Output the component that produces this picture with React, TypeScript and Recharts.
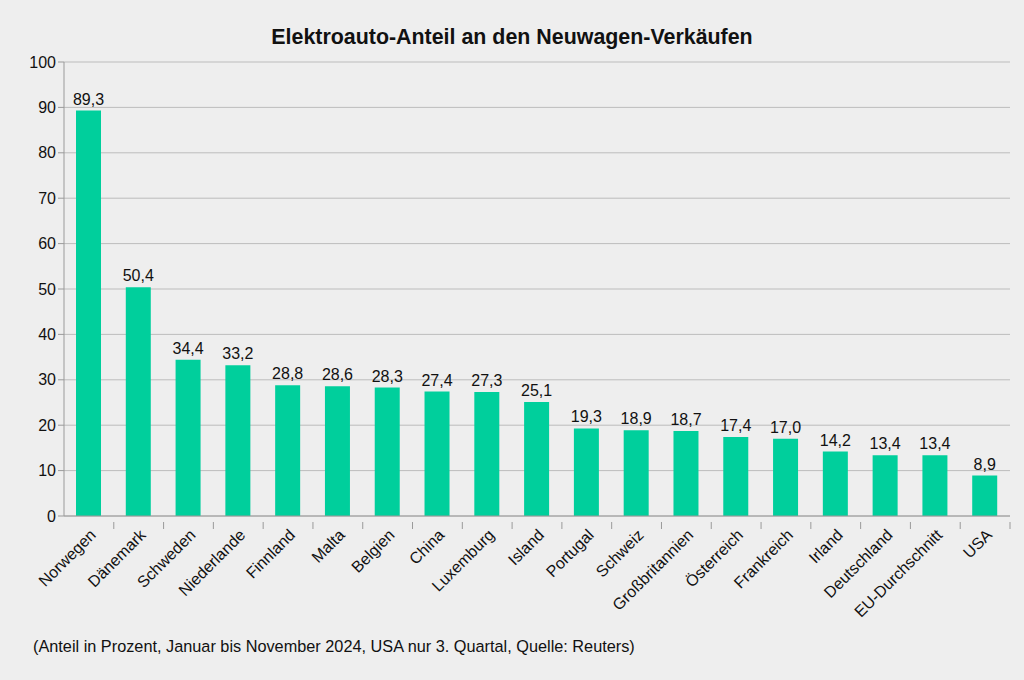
import { BarChart, Bar, XAxis, YAxis, CartesianGrid, LabelList } from 'recharts'

const countries = [
  'Norwegen', 'Dänemark', 'Schweden', 'Niederlande', 'Finnland', 'Malta', 'Belgien', 'China',
  'Luxemburg', 'Island', 'Portugal', 'Schweiz', 'Großbritannien', 'Österreich', 'Frankreich',
  'Irland', 'Deutschland', 'EU-Durchschnitt', 'USA',
]
const shares = [89.3, 50.4, 34.4, 33.2, 28.8, 28.6, 28.3, 27.4, 27.3, 25.1, 19.3, 18.9, 18.7, 17.4, 17.0, 14.2, 13.4, 13.4, 8.9]
const yTicks = [0, 10, 20, 30, 40, 50, 60, 70, 80, 90, 100]

const FONT = '"Liberation Sans", Arial, sans-serif'
const BAR = '#00cf9c'
const AXIS = '#9a9a9a'

const W = 1024
const H = 680
const M = { top: 62, right: 14, bottom: 154, left: 0 }
const Y_W = 64
const BAND = (W - M.left - M.right - Y_W) / countries.length

const data = countries.map((name, i) => ({ name, value: shares[i] }))

const fmt = (v: unknown) => Number(v).toFixed(1).replace('.', ',')

// category labels at 45°, with small tick marks on the band boundaries
function CountryTick({ x, y, payload }: any) {
  return (
    <g>
      <line x1={x + BAND / 2} x2={x + BAND / 2} y1={y - 2} y2={y + 5} stroke={AXIS} />
      <text
        x={x + 8}
        y={y + 12}
        textAnchor="end"
        fontSize={16}
        fontFamily={FONT}
        fill="#111"
        transform={`rotate(-45, ${x + 8}, ${y + 12})`}
      >
        {payload.value}
      </text>
    </g>
  )
}

export default function App() {
  return (
    <div style={{ position: 'fixed', left: 0, top: 0, width: W, height: H, background: '#eeeeee', fontFamily: FONT }}>
      <div style={{ position: 'absolute', left: 0, width: W, top: 25, textAlign: 'center', fontWeight: 'bold', fontSize: 21.4, color: '#111' }}>
        Elektroauto-Anteil an den Neuwagen-Verkäufen
      </div>
      <BarChart width={W} height={H} data={data} margin={M} barCategoryGap="25%">
        <CartesianGrid vertical={false} stroke="#bcbcbc" />
        <XAxis
          dataKey="name"
          interval={0}
          tick={<CountryTick />}
          tickLine={false}
          axisLine={{ stroke: AXIS }}
          height={10}
        />
        <YAxis
          domain={[0, 100]}
          ticks={yTicks}
          width={Y_W}
          tick={{ fontSize: 16, fill: '#111', fontFamily: FONT }}
          tickLine={{ stroke: AXIS }}
          tickSize={6}
          axisLine={{ stroke: AXIS }}
        />
        <YAxis yAxisId="r" orientation="right" width={0} tick={false} tickLine={false} axisLine={{ stroke: AXIS }} domain={[0, 100]} />
        <Bar dataKey="value" fill={BAR} barSize={25} isAnimationActive={false}>
          <LabelList dataKey="value" position="top" formatter={fmt} fontSize={16} fill="#111" fontFamily={FONT} offset={6} />
        </Bar>
      </BarChart>
      <div style={{ position: 'absolute', left: 33, top: 637, fontSize: 16.3, color: '#111' }}>
        (Anteil in Prozent, Januar bis November 2024, USA nur 3. Quartal, Quelle: Reuters)
      </div>
    </div>
  )
}
